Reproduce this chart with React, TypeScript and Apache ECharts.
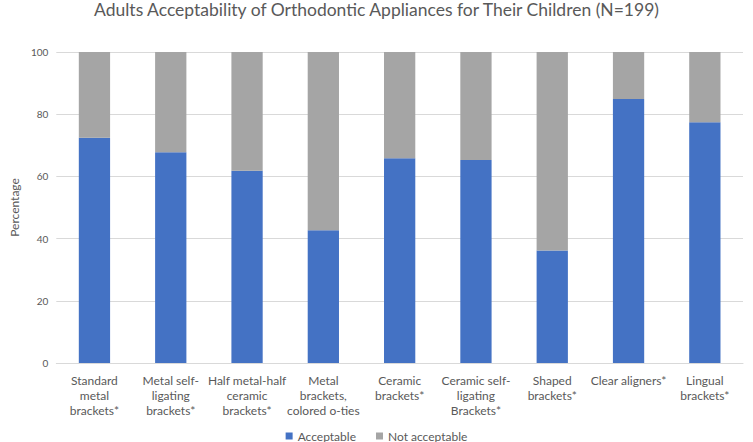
import React, { useEffect, useRef } from "react";
import * as echarts from "echarts";

const categories = [
  "Standard\nmetal\nbrackets*",
  "Metal self-\nligating\nbrackets*",
  "Half metal-half\nceramic\nbrackets*",
  "Metal\nbrackets,\ncolored o-ties",
  "Ceramic\nbrackets*",
  "Ceramic self-\nligating\nBrackets*",
  "Shaped\nbrackets*",
  "Clear aligners*",
  "Lingual\nbrackets*",
];
const acceptable = [72.4, 67.8, 61.8, 42.7, 65.8, 65.3, 36.2, 84.9, 77.4];
const notAcceptable = [27.6, 32.2, 38.2, 57.3, 34.2, 34.7, 63.8, 15.1, 22.6];
const seriesNames = ["Acceptable", "Not acceptable"];
const titleText = "Adults Acceptability of Orthodontic Appliances for Their Children (N=199)";
const yAxisName = "Percentage";

const FONT = "Lato, 'Open Sans', sans-serif";

export default function App() {
  const ref = useRef<HTMLDivElement>(null);
  useEffect(() => {
    if (!ref.current) return;
    const chart = echarts.init(ref.current, undefined, { renderer: "svg" });
    chart.setOption({
      animation: false,
      textStyle: { fontFamily: FONT },
      title: {
        text: titleText,
        left: "center",
        top: 0,
        padding: 0,
        textStyle: { fontFamily: FONT, fontSize: 17.5, fontWeight: "normal", color: "#595959" },
      },
      legend: {
        bottom: 0,
        left: "center",
        padding: [0, 5, 0, 5],
        itemWidth: 7,
        itemHeight: 7,
        itemGap: 20,
        icon: "rect",
        textStyle: { fontFamily: FONT, fontSize: 12, color: "#595959" },
        data: seriesNames,
      },
      grid: { left: 40, right: 10, top: 52, bottom: 79 },
      xAxis: {
        type: "category",
        data: categories,
        axisTick: { show: false },
        axisLine: { lineStyle: { color: "#d9d9d9" } },
        axisLabel: {
          interval: 0,
          color: "#595959",
          fontSize: 12,
          fontFamily: FONT,
          lineHeight: 15,
          margin: 10,
        },
      },
      yAxis: {
        type: "value",
        min: 0,
        max: 100,
        interval: 20,
        name: yAxisName,
        nameLocation: "middle",
        nameGap: 31,
        nameTextStyle: { color: "#595959", fontSize: 12, fontFamily: FONT },
        axisLabel: { color: "#595959", fontSize: 10, fontFamily: FONT, margin: 8 },
        splitLine: { lineStyle: { color: "#d9d9d9" } },
        axisLine: { show: false },
        axisTick: { show: false },
      },
      series: [
        {
          name: seriesNames[0],
          type: "bar",
          stack: "total",
          data: acceptable,
          barWidth: "41%",
          itemStyle: { color: "#4472C4" },
        },
        {
          name: seriesNames[1],
          type: "bar",
          stack: "total",
          data: notAcceptable,
          barWidth: "41%",
          itemStyle: { color: "#A5A5A5" },
        },
      ],
    });
    return () => chart.dispose();
  }, []);
  return <div ref={ref} style={{ width: 753, height: 442, position: "absolute", left: 0, top: 0 }} />;
}
